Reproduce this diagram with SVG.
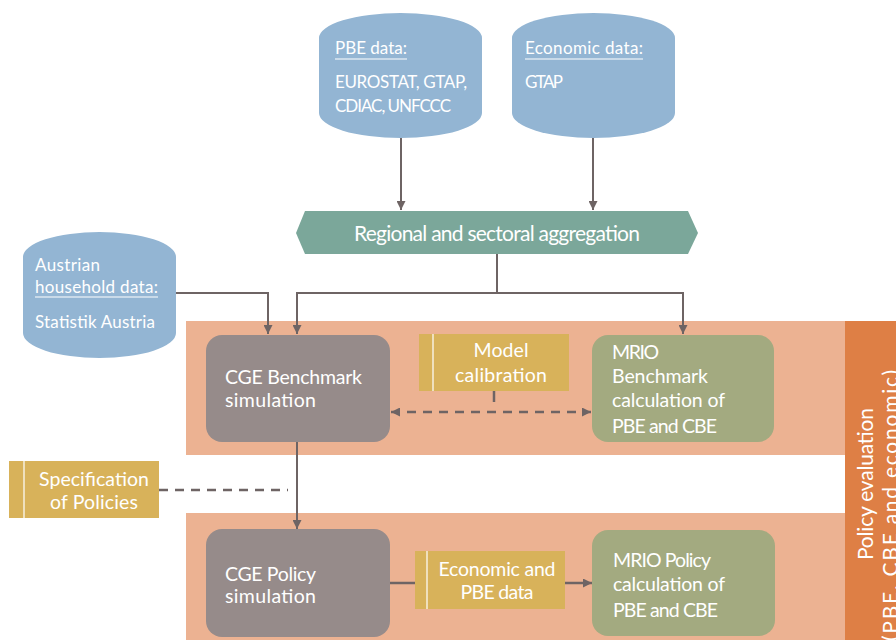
<svg xmlns="http://www.w3.org/2000/svg" width="896" height="640" viewBox="0 0 896 640">
<style>
text{font-family:Lato,"Open Sans","Liberation Sans",sans-serif;fill:#ffffff;}
.t{font-size:17px;}
.m{font-size:19.5px;}
.c{text-anchor:middle;}
.cyl{fill:#93B5D3;}
.box{fill:#968B8A;}
.grn{fill:#A3AA80;}
.yel{fill:#D8B25A;}
.ln{stroke:#6E6464;stroke-width:2;fill:none;}
.dash{stroke:#6E6464;stroke-width:2.5;fill:none;stroke-dasharray:9 7;}
.ul{stroke:#ffffff;stroke-width:1.2;}
</style>
<defs>
<marker id="ah" viewBox="0 0 10 10" refX="10" refY="5" markerWidth="9" markerHeight="9" markerUnits="userSpaceOnUse" orient="auto-start-reverse">
<path d="M0,0 L10,5 L0,10 z" fill="#6E6464"/>
</marker>
</defs>
<rect width="896" height="640" fill="#ffffff"/>
<g id="bands">
<rect x="186" y="321" width="659" height="134" fill="#ECB292"/>
<rect x="186" y="513" width="659" height="127" fill="#ECB292"/>
</g>
<g id="policy-evaluation">
<rect x="845" y="321" width="51" height="319" fill="#DE7F45"/>
<text style="font-size:21px" transform="translate(873,560) rotate(-90)" textLength="152" lengthAdjust="spacing">Policy evaluation</text>
<text style="font-size:21px" transform="translate(898,641) rotate(-90)" textLength="271" lengthAdjust="spacing">(PBE, CBE and economic)</text>
</g>
<g id="pbe-data">
<path class="cyl" d="M319,38 A81.5,25 0 0 1 482,38 L482,113 A81.5,25 0 0 1 319,113 Z"/>
<text class="t" x="335" y="54" textLength="72" lengthAdjust="spacing">PBE data:</text>
<line class="ul" x1="335" y1="59" x2="407" y2="59"/>
<text class="t" x="335" y="88" textLength="132" lengthAdjust="spacing">EUROSTAT,  GTAP,</text>
<text class="t" x="335" y="112" textLength="116" lengthAdjust="spacing">CDIAC, UNFCCC</text>
</g>
<g id="economic-data">
<path class="cyl" d="M512,38 A81.5,25 0 0 1 675,38 L675,113 A81.5,25 0 0 1 512,113 Z"/>
<text class="t" x="525" y="54" textLength="118" lengthAdjust="spacing">Economic data:</text>
<line class="ul" x1="525" y1="59" x2="643" y2="59"/>
<text class="t" x="525" y="88" textLength="38" lengthAdjust="spacing">GTAP</text>
</g>
<g id="austrian-data">
<path class="cyl" d="M23,257 A76.5,25 0 0 1 176,257 L176,333 A76.5,25 0 0 1 23,333 Z"/>
<text class="t" x="35" y="271" textLength="65" lengthAdjust="spacing">Austrian</text>
<text class="t" x="35" y="293" textLength="123" lengthAdjust="spacing">household data:</text>
<line class="ul" x1="35" y1="297" x2="158" y2="297"/>
<text class="t" x="35" y="328" textLength="120" lengthAdjust="spacing">Statistik Austria</text>
</g>
<g id="aggregation">
<path d="M296,233 L305,211 L688,211 L698,233 L688,254 L305,254 Z" fill="#7BA79A"/>
<text style="font-size:21px" x="354" y="241" textLength="286" lengthAdjust="spacing">Regional and sectoral aggregation</text>
</g>
<g id="cge-benchmark">
<rect class="box" x="206" y="335" width="184" height="107" rx="16"/>
<text class="m" x="225" y="384" textLength="137" lengthAdjust="spacing">CGE Benchmark</text>
<text class="m" x="225" y="407" textLength="91" lengthAdjust="spacing">simulation</text>
</g>
<g id="model-calibration">
<rect class="yel" x="419" y="334" width="150" height="57"/>
<line class="ul" x1="433" y1="334" x2="433" y2="391"/>
<text class="m c" x="501" y="357" textLength="55" lengthAdjust="spacing">Model</text>
<text class="m c" x="501" y="382" textLength="92" lengthAdjust="spacing">calibration</text>
</g>
<g id="mrio-benchmark">
<rect class="grn" x="592" y="335" width="182" height="107" rx="16"/>
<text class="m" x="612" y="359" textLength="47" lengthAdjust="spacing">MRIO</text>
<text class="m" x="612" y="383" textLength="96" lengthAdjust="spacing">Benchmark</text>
<text class="m" x="612" y="407" textLength="113" lengthAdjust="spacing">calculation of</text>
<text class="m" x="612" y="433" textLength="105" lengthAdjust="spacing">PBE and CBE</text>
</g>
<g id="specification">
<rect class="yel" x="9" y="461" width="150" height="57"/>
<line class="ul" x1="24" y1="461" x2="24" y2="518"/>
<text class="m c" x="94" y="486" textLength="110" lengthAdjust="spacing">Specification</text>
<text class="m c" x="94" y="509" textLength="88" lengthAdjust="spacing">of Policies</text>
</g>
<g id="cge-policy">
<rect class="box" x="206" y="529" width="184" height="108" rx="16"/>
<text class="m" x="225" y="581" textLength="91" lengthAdjust="spacing">CGE Policy</text>
<text class="m" x="225" y="603" textLength="91" lengthAdjust="spacing">simulation</text>
</g>
<g id="economic-pbe">
<rect class="yel" x="415" y="551" width="150" height="58"/>
<line class="ul" x1="427" y1="551" x2="427" y2="609"/>
<text class="m c" x="497" y="576" textLength="117" lengthAdjust="spacing">Economic and</text>
<text class="m c" x="497" y="599" textLength="73" lengthAdjust="spacing">PBE data</text>
</g>
<g id="mrio-policy">
<rect class="grn" x="592" y="530" width="183" height="106" rx="16"/>
<text class="m" x="613" y="567" textLength="98" lengthAdjust="spacing">MRIO Policy</text>
<text class="m" x="613" y="591" textLength="112" lengthAdjust="spacing">calculation of</text>
<text class="m" x="613" y="617" textLength="105" lengthAdjust="spacing">PBE and CBE</text>
</g>
<g id="connectors">
<path class="ln" d="M401,138 V210" marker-end="url(#ah)"/>
<path class="ln" d="M593,138 V210" marker-end="url(#ah)"/>
<path class="ln" d="M497,254 V293"/>
<path class="ln" d="M297,293 H683"/>
<path class="ln" d="M297,292 V334" marker-end="url(#ah)"/>
<path class="ln" d="M683,292 V334" marker-end="url(#ah)"/>
<path class="ln" d="M176,293 H268 V334" marker-end="url(#ah)"/>
<path class="dash" d="M391,412 H591" marker-start="url(#ah)" marker-end="url(#ah)"/>
<path class="ln" style="stroke-width:2.5" d="M494,391 V402"/>
<path class="dash" d="M159,490 H288"/>
<path class="ln" d="M297,442 V529" marker-end="url(#ah)"/>
<path class="ln" style="stroke-width:2.5" d="M390,583 H415"/>
<path class="ln" style="stroke-width:2.5" d="M565,583 H592" marker-end="url(#ah)"/>
</g>
</svg>
